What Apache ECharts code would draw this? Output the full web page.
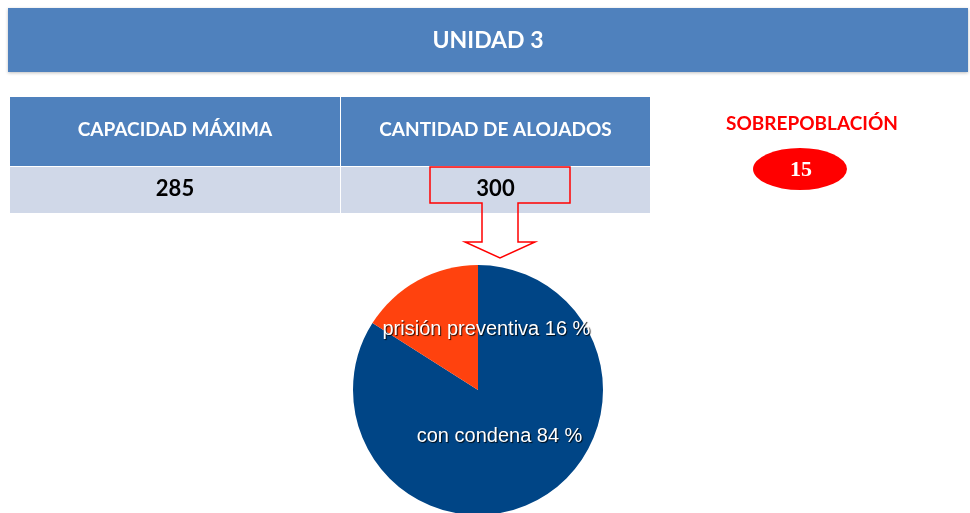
<!DOCTYPE html>
<html>
<head>
<meta charset="utf-8">
<script src="https://cdn.jsdelivr.net/npm/echarts@6/dist/echarts.min.js"></script>
<style>
  html, body { margin: 0; padding: 0; background: #fff; }
  #chart { width: 970px; height: 513px; }
</style>
</head>
<body>
<div id="chart"></div>
<script>
// data
const titleText = 'UNIDAD 3'
const tableHeaders = ['CAPACIDAD MÁXIMA', 'CANTIDAD DE ALOJADOS']
const tableValues = [285, 300]
const overLabel = 'SOBREPOBLACIÓN'
const overValue = 15
const pieNames = ['con condena', 'prisión preventiva']
const pieValues = [84, 16]
const pieColors = ['#004586', '#ff420e']

const chart = echarts.init(document.getElementById('chart'))

const headBlue = '#4f81bd'
const rowGrey = '#d0d8e8'
const red = '#ff0000'

// table cells
const colX = [10, 341]
const colW = [330, 309]
const cells = []
tableHeaders.forEach((h, i) => {
  cells.push({
    type: 'rect',
    shape: { x: colX[i], y: 97, width: colW[i], height: 69 },
    style: { fill: headBlue }
  })
  cells.push({
    type: 'rect',
    shape: { x: colX[i], y: 167, width: colW[i], height: 46 },
    style: { fill: rowGrey }
  })
  cells.push({
    type: 'text',
    x: colX[i] + colW[i] / 2,
    y: 130,
    style: {
      text: h, fill: '#fff', font: 'bold 19px Lato, "Open Sans", sans-serif',
      textAlign: 'center', textVerticalAlign: 'middle'
    }
  })
  cells.push({
    type: 'text',
    x: colX[i] + colW[i] / 2,
    y: 189,
    style: {
      text: String(tableValues[i]), fill: '#000', font: 'bold 22px Lato, "Open Sans", sans-serif',
      textAlign: 'center', textVerticalAlign: 'middle'
    }
  })
})

chart.setOption({
  backgroundColor: '#fff',
  animation: false,
  graphic: [
    {
      type: 'rect',
      shape: { x: 8, y: 8, width: 960, height: 64 },
      style: { fill: headBlue, shadowColor: 'rgba(0,0,0,0.25)', shadowBlur: 3, shadowOffsetY: 1 }
    },
    {
      type: 'text',
      x: 488,
      y: 41,
      style: {
        text: titleText, fill: '#fff', font: 'bold 23px Lato, "Open Sans", sans-serif',
        textAlign: 'center', textVerticalAlign: 'middle'
      }
    },
    ...cells,
    // callout arrow from 300 down to the pie
    {
      type: 'polygon',
      shape: {
        points: [[430, 167], [570, 167], [570, 203], [518, 203], [518, 242], [535, 242],
          [500, 258], [465, 242], [482, 242], [482, 203], [430, 203]]
      },
      style: { fill: 'none', stroke: red, lineWidth: 1.5 }
    },
    {
      type: 'text',
      x: 812,
      y: 124,
      style: {
        text: overLabel, fill: red, font: 'bold 19px Lato, "Open Sans", sans-serif',
        textAlign: 'center', textVerticalAlign: 'middle'
      }
    },
    {
      type: 'circle',
      x: 800,
      y: 169,
      scaleX: 47 / 21,
      shape: { cx: 0, cy: 0, r: 21 },
      style: { fill: red }
    },
    {
      type: 'text',
      x: 801,
      y: 170,
      style: {
        text: String(overValue), fill: '#fff', font: 'bold 22px "Liberation Serif", serif',
        textAlign: 'center', textVerticalAlign: 'middle'
      }
    }
  ],
  series: [{
    type: 'pie',
    center: [478, 390],
    radius: 125,
    startAngle: 90,
    clockwise: true,
    color: pieColors,
    label: {
      position: 'inside',
      color: '#fff',
      fontFamily: '"Liberation Sans", Arial, sans-serif',
      fontSize: 20,
      textShadowColor: 'rgba(0,0,0,0.85)',
      textShadowBlur: 1,
      textShadowOffsetX: 1,
      textShadowOffsetY: 1,
      formatter: p => p.name + ' ' + Math.round(p.percent) + ' %'
    },
    labelLayout: params => params.dataIndex === 1 ? { dx: 40, dy: -3 } : { dx: -10, dy: -11 },
    labelLine: { show: false },
    data: pieNames.map((n, i) => ({ name: n, value: pieValues[i] }))
  }]
})
</script>
</body>
</html>
